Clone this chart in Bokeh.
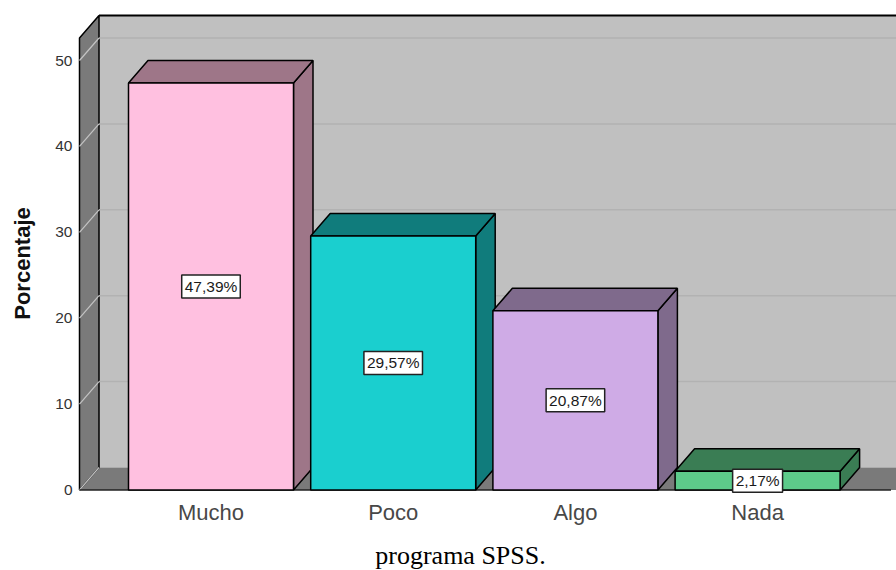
import math
from bokeh.plotting import figure
from bokeh.models import FixedTicker
from bokeh.core.properties import value
from bokeh.embed import file_html
from bokeh.resources import INLINE

categories = ["Mucho", "Poco", "Algo", "Nada"]
percentages = [47.39, 29.57, 20.87, 2.17]
value_labels = ["47,39%", "29,57%", "20,87%", "2,17%"]
y_ticks = [0, 10, 20, 30, 40, 50]
caption = "programa SPSS."
y_title = "Porcentaje"

front_colors = ["#FFC0E0", "#1ACFCF", "#CFABE6", "#5DCB8A"]
side_colors = ["#9E7688", "#107C7C", "#7F6A8C", "#3A7D54"]
WALL = "#7A7A7A"
BACK = "#C0C0C0"
W, H = 896, 570

PX_X = 182.2                # pixels per category
PX_Y = 8.59                 # pixels per percentage point
ORIGIN_X, ORIGIN_Y = 210.5, 489.5   # page pixel of category 1 / of value 0


def sx(px):
    return 1 + (px - ORIGIN_X) / PX_X


def sy(py):
    return (ORIGIN_Y - py) / PX_Y


DX = 19.5 / PX_X
DY = 22.5 / PX_Y
BAR = 165 / PX_X
X0, X1 = sx(79), sx(W)
Y1 = sy(15)

p = figure(width=W, height=H, output_backend="svg", toolbar_location=None,
           x_range=(sx(0), sx(W)), y_range=(sy(H), sy(0)),
           min_border_left=0, min_border_right=0, min_border_top=0, min_border_bottom=0,
           background_fill_color="white", border_fill_color="white")
p.outline_line_color = None
p.grid.visible = False

# walls and floor
p.quad(left=X0 + DX, right=X1, bottom=DY, top=Y1, fill_color=BACK, line_color=None)
p.patch([X0 + DX, X1 + DX, X1 + DX - 0.03, X0], [DY, DY, 0, 0], fill_color=WALL, line_color=None)
p.patch([X0, X0 + DX, X0 + DX, X0], [0, DY, Y1, Y1 - DY], fill_color=WALL, line_color="black", line_width=1.5)

# gridlines
for t in y_ticks[1:]:
    p.line([X0 + DX, X1], [t + DY, t + DY], line_color="#B2B2B2", line_width=1.5)
    p.line([X0, X0 + DX], [t, t + DY], line_color="#C4C4C4", line_width=1.2)
p.line([X0, X0 + DX], [0, DY], line_color="#C4C4C4", line_width=1.2)
p.line([X0 + DX, X1], [Y1, Y1], line_color="black", line_width=2)
p.line([X0, X1 - 0.03], [0, 0], line_color="#222222", line_width=1.5)

# bars
for i, v in enumerate(percentages):
    c = i + 1
    a, b = c - BAR / 2, c + BAR / 2
    p.patch([b, b + DX, b + DX, b], [0, DY, v + DY, v], fill_color=side_colors[i], line_color="black", line_width=1.5)
    p.patch([a, a + DX, b + DX, b], [v, v + DY, v + DY, v], fill_color=side_colors[i], line_color="black", line_width=1.5)
    p.quad(left=a, right=b, bottom=0, top=v, fill_color=front_colors[i], line_color="black", line_width=1.5)

p.text(x=[1, 2, 3, 4], y=[v / 2 for v in percentages], text=value_labels,
       text_align="center", text_baseline="middle", text_font=value("Liberation Sans"),
       text_font_size="15.5px", text_color="#1A1A1A",
       background_fill_color="white", border_line_color="#222222", border_line_width=1.5, padding=3)

# axes
p.xaxis.fixed_location = 0
p.xaxis.ticker = FixedTicker(ticks=[1, 2, 3, 4])
p.xaxis.major_label_overrides = {i + 1: c for i, c in enumerate(categories)}
p.xaxis.axis_line_color = None
p.xaxis.major_tick_line_color = None
p.xaxis.minor_tick_line_color = None
p.xaxis.major_tick_out = 0
p.xaxis.major_label_text_font = "Liberation Sans"
p.xaxis.major_label_text_font_size = "22px"
p.xaxis.major_label_text_color = "#484848"
p.xaxis.major_label_standoff = 10

p.yaxis.fixed_location = X0
p.yaxis.ticker = FixedTicker(ticks=y_ticks)
p.yaxis.axis_line_color = None
p.yaxis.major_tick_line_color = None
p.yaxis.minor_tick_line_color = None
p.yaxis.major_tick_out = 0
p.yaxis.major_label_text_font = "Liberation Sans"
p.yaxis.major_label_text_font_size = "15.5px"
p.yaxis.major_label_text_color = "#333333"
p.yaxis.major_label_standoff = 7

p.text(x=[sx(22)], y=[sy(263)], text=[y_title], angle=math.pi / 2,
       text_align="center", text_baseline="middle", text_font=value("Liberation Sans"),
       text_font_style="bold", text_font_size="22px", text_color="#111111")
p.text(x=[sx(460)], y=[sy(554.5)], text=[caption],
       text_align="center", text_baseline="middle", text_font=value("Liberation Serif"),
       text_font_size="26px", text_color="black")

open("out.html", "w").write(file_html(p, INLINE))
